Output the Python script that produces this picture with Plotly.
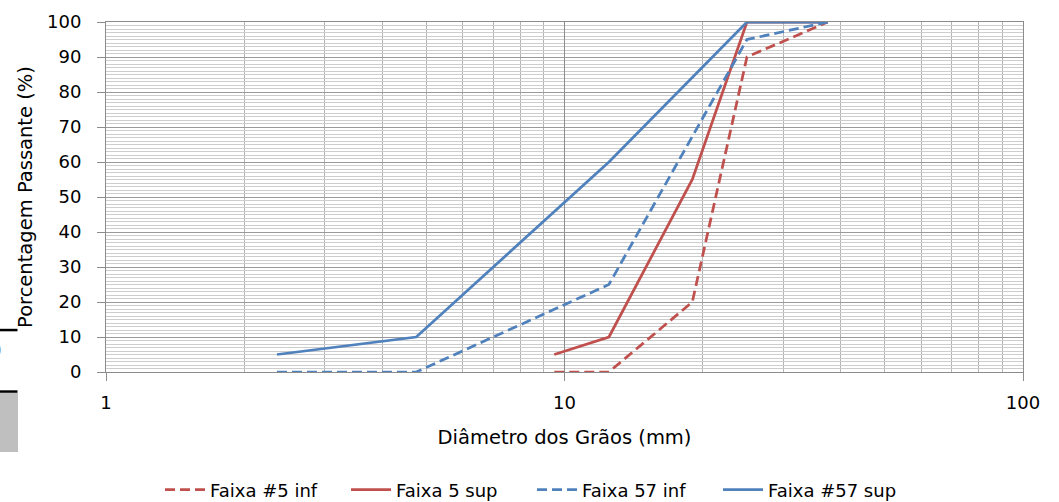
import plotly.graph_objects as go

# ---- data ----
diam_5_inf = [9.5, 12.5, 19, 25, 37.5]
pass_5_inf = [0, 0, 20, 90, 100]
diam_5_sup = [9.5, 12.5, 19, 25, 37.5]
pass_5_sup = [5, 10, 55, 100, 100]
diam_57_inf = [2.36, 4.75, 12.5, 25, 37.5]
pass_57_inf = [0, 0, 25, 95, 100]
diam_57_sup = [2.36, 4.75, 12.5, 25, 37.5]
pass_57_sup = [5, 10, 60, 100, 100]
names = ["Faixa #5 inf", "Faixa 5 sup", "Faixa 57 inf", "Faixa #57 sup"]
y_ticks = list(range(0, 101, 10))
x_ticks = [1, 10, 100]
x_tick_labels = ["1", "10", "100"]

RED = "#C0504D"
BLUE = "#4F81BD"
FONT = "DejaVu Sans"
TXT = "#000000"
FS = 18
FS_TITLE = 19.5

W, H = 1059, 502
# plot area in window pixels: x 106..1023, y 22..372
L, T = 106, 22
R, B = W - 1023, H - 372
PW, PH = W - L - R, H - T - B


def px(xs):  # window x pixel -> paper fraction
    return (xs - L) / PW


def py(ys):  # window y pixel -> paper fraction
    return (H - B - ys) / PH


fig = go.Figure()
series = [
    (diam_5_inf, pass_5_inf, RED, "10px,5px"),
    (diam_5_sup, pass_5_sup, RED, "solid"),
    (diam_57_inf, pass_57_inf, BLUE, "10px,5px"),
    (diam_57_sup, pass_57_sup, BLUE, "solid"),
]
for (xs, ys, c, d), n in zip(series, names):
    fig.add_trace(go.Scatter(x=xs, y=ys, mode="lines", name=n,
                             line=dict(color=c, width=2.75, dash=d)))

fig.update_layout(
    width=W, height=H,
    margin=dict(l=L, r=R, t=T, b=B),
    paper_bgcolor="white", plot_bgcolor="white",
    font=dict(family=FONT, size=FS, color=TXT),
    showlegend=True,
    legend=dict(orientation="h", xref="container", yref="container",
                x=160 / W, xanchor="left",
                y=1 - 490 / H, yanchor="middle",
                font=dict(family=FONT, size=FS, color=TXT),
                itemwidth=40, entrywidth=131, entrywidthmode="pixels",
                traceorder="normal", bgcolor="rgba(0,0,0,0)"),
    xaxis=dict(type="log", range=[0, 2], tickvals=x_ticks, ticktext=x_tick_labels,
               automargin=False,
               showgrid=True, gridcolor="#8c8c8c", gridwidth=1,
               minor=dict(tickvals=[a * b for b in (1, 10) for a in range(2, 10)],
                          showgrid=True, gridcolor="#b4b4b4", gridwidth=1.2, ticks=""),
               ticks="outside", ticklen=8, tickcolor="#8c8c8c", ticklabelstandoff=6,
               showline=True, linecolor="#8c8c8c", linewidth=1, mirror=True,
               zeroline=False,
               title=dict(text="Diâmetro dos Grãos (mm)", standoff=18,
                          font=dict(family=FONT, size=FS_TITLE, color=TXT))),
    yaxis=dict(range=[0, 100], tickvals=y_ticks,
               automargin=False,
               showgrid=True, gridcolor="#9a9a9a", gridwidth=1.2,
               minor=dict(dtick=1, showgrid=True, gridcolor="#cdcdcd", gridwidth=1, ticks=""),
               ticks="outside", ticklen=8, tickcolor="#8c8c8c", ticklabelstandoff=12,
               showline=True, linecolor="#8c8c8c", linewidth=1, mirror=True,
               zeroline=False,
               title=dict(text="Porcentagem Passante (%)", standoff=9,
                          font=dict(family=FONT, size=FS_TITLE, color=TXT))),
)

# crop artifacts on the left edge of the reference image (drawn as filled boxes)
shapes = [
    dict(type="rect", xref="paper", yref="paper", x0=px(0), x1=px(18), y0=py(393), y1=py(452),
         fillcolor="#BFBFBF", line=dict(width=0), layer="above"),
    dict(type="rect", xref="paper", yref="paper", x0=px(0), x1=px(17.5), y0=py(328.8), y1=py(331.3),
         fillcolor="black", line=dict(width=0), layer="above"),
    dict(type="rect", xref="paper", yref="paper", x0=px(0), x1=px(17.5), y0=py(390.3), y1=py(392.8),
         fillcolor="black", line=dict(width=0), layer="above"),
]
fig.update_layout(shapes=shapes)
fig.add_annotation(xref="paper", yref="paper", x=px(4), y=py(350), xanchor="right",
                   yanchor="middle", text="0", showarrow=False,
                   font=dict(family=FONT, size=20, color="#666666"))

# remove the default 8px body margin so the figure fills the window exactly
fig.write_html("out.html", config={"displayModeBar": False},
               post_script="document.body.style.margin='0px';")
